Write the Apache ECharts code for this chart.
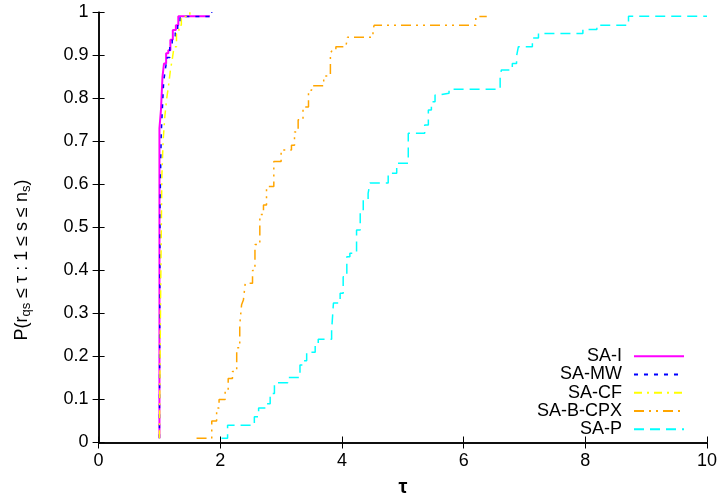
<!DOCTYPE html>
<html>
<head>
<meta charset="utf-8">
<script src="https://cdn.jsdelivr.net/npm/echarts@6/dist/echarts.min.js"></script>
<style>html,body{margin:0;padding:0;background:#fff}#c{width:720px;height:499px}</style>
</head>
<body>
<div id="c"></div>
<script>
// ---- data ----
const seriesNames = ['SA-I', 'SA-MW', 'SA-CF', 'SA-B-CPX', 'SA-P'];
const xTicks = [0, 2, 4, 6, 8, 10];
const yTicks = [0, 0.1, 0.2, 0.3, 0.4, 0.5, 0.6, 0.7, 0.8, 0.9, 1];

const saI_tau = [1.00, 1.00, 1.025, 1.05, 1.075, 1.11, 1.146, 1.18, 1.22, 1.27, 1.31, 1.83];
const saI_p   = [0.01, 0.73, 0.773, 0.85, 0.881, 0.905, 0.912, 0.936, 0.959, 0.97, 0.991, 0.991];

const saMW_tau = [1.00, 1.01, 1.03, 1.05, 1.07, 1.10, 1.13, 1.17, 1.21, 1.26, 1.30, 1.34, 1.86];
const saMW_p   = [0.01, 0.55, 0.72, 0.78, 0.84, 0.87, 0.895, 0.92, 0.945, 0.96, 0.975, 0.99, 1.0];

const saCF_tau = [1.00, 1.02, 1.04, 1.06, 1.09, 1.12, 1.15, 1.18, 1.21, 1.24, 1.28, 1.32, 1.36, 1.50];
const saCF_p   = [0.01, 0.35, 0.62, 0.70, 0.76, 0.80, 0.83, 0.865, 0.89, 0.92, 0.95, 0.97, 0.99, 1.0];

const saBCPX_tau = [1.61, 1.86, 1.94, 1.98, 2.08, 2.13, 2.20, 2.27, 2.32, 2.35, 2.38, 2.41, 2.53, 2.57, 2.65,
                    2.71, 2.76, 2.88, 3.00, 3.17, 3.22, 3.28, 3.36, 3.45, 3.50, 3.70, 3.81, 3.84, 3.90, 4.07,
                    4.09, 4.51, 4.53, 6.20, 6.38];
const saBCPX_p   = [0.01, 0.05, 0.08, 0.10, 0.118, 0.149, 0.165, 0.22, 0.273, 0.32, 0.331, 0.37, 0.40, 0.46, 0.53,
                    0.552, 0.595, 0.653, 0.68, 0.691, 0.722, 0.75, 0.78, 0.819, 0.829, 0.852, 0.905, 0.912, 0.92, 0.925,
                    0.942, 0.96, 0.97, 0.99, 0.99];

const saP_tau = [2.02, 2.12, 2.56, 2.63, 2.75, 2.82, 2.89, 3.11, 3.31, 3.37, 3.42, 3.56, 3.61, 3.83, 3.86,
                 3.97, 4.02, 4.08, 4.13, 4.24, 4.30, 4.35, 4.43, 4.46, 4.76, 4.90, 5.09, 5.36, 5.42, 5.47,
                 5.53, 5.61, 5.76, 6.60, 6.62, 6.80, 6.87, 6.90, 7.13, 7.23, 7.96, 8.19, 8.71, 10.0];
const saP_p   = [0.01, 0.04, 0.06, 0.08, 0.09, 0.114, 0.139, 0.151, 0.18, 0.19, 0.21, 0.23, 0.24, 0.26, 0.324,
                 0.347, 0.385, 0.432, 0.44, 0.494, 0.54, 0.564, 0.579, 0.603, 0.626, 0.649, 0.719, 0.738, 0.773, 0.792,
                 0.808, 0.812, 0.821, 0.849, 0.866, 0.881, 0.898, 0.92, 0.94, 0.951, 0.96, 0.97, 0.991, 0.991];

// ---- build ----
const zip = (a, b) => a.map((v, i) => [v, b[i]]);
const seriesData = [
  zip(saI_tau, saI_p), zip(saMW_tau, saMW_p), zip(saCF_tau, saCF_p),
  zip(saBCPX_tau, saBCPX_p), zip(saP_tau, saP_p)
];
const styles = [
  { color: '#ff00ff', width: 2,   type: 'solid' },
  { color: '#0000ff', width: 1.5, type: [4, 6] },
  { color: '#ffff00', width: 1.5, type: [8, 5, 2, 5] },
  { color: '#ffa500', width: 1.5, type: [10, 5, 2, 5, 2, 5] },
  { color: '#00ffff', width: 1.5, type: [10, 6] }
];
const FONT = 'Liberation Sans, Arial, sans-serif';

const chart = echarts.init(document.getElementById('c'), null, { renderer: 'canvas' });
const axisLine = { show: true, lineStyle: { color: '#000', width: 1.5 } };
const tick = { show: true, inside: true, length: 6, lineStyle: { color: '#000', width: 1 } };

chart.setOption({
  animation: false,
  backgroundColor: '#fff',
  grid: { left: 98.6, right: 13, top: 12.3, bottom: 56.5, containLabel: false },
  xAxis: [
    { type: 'value', min: xTicks[0], max: xTicks[xTicks.length - 1], interval: 2, position: 'bottom',
      axisLine, axisTick: tick, splitLine: { show: false },
      axisLabel: { color: '#000', fontFamily: FONT, fontSize: 18, margin: 10 } },
    { type: 'value', min: xTicks[0], max: xTicks[xTicks.length - 1], interval: 2, position: 'top',
      axisLine, axisTick: tick, splitLine: { show: false }, axisLabel: { show: false } }
  ],
  yAxis: [
    { type: 'value', min: yTicks[0], max: yTicks[yTicks.length - 1], interval: 0.1, position: 'left',
      axisLine, axisTick: tick, splitLine: { show: false },
      axisLabel: { color: '#000', fontFamily: FONT, fontSize: 18, margin: 10 } },
    { type: 'value', min: yTicks[0], max: yTicks[yTicks.length - 1], interval: 0.1, position: 'right',
      axisLine, axisTick: tick, splitLine: { show: false }, axisLabel: { show: false } }
  ],
  legend: {
    orient: 'vertical', align: 'right', right: 30, top: 342,
    itemWidth: 50, itemHeight: 12, itemGap: 0,
    itemStyle: { opacity: 0 },
    textStyle: { color: '#000', fontFamily: FONT, fontSize: 18, lineHeight: 18.3,
                 width: 95, align: 'right', padding: [0, 7, 0, 0] },
    data: seriesNames
  },
  graphic: [
    { type: 'text', x: 22, y: 260, rotation: Math.PI / 2,
      style: { text: 'P(r{s|qs} ≤ τ : 1 ≤ s ≤ n{s|s})', font: '18px ' + FONT, fill: '#000',
               align: 'center', verticalAlign: 'middle',
               rich: { s: { fontSize: 13, fontFamily: FONT, verticalAlign: 'bottom', padding: [8, 0, 0, 0] } } } },
    { type: 'text', x: 403, y: 487,
      style: { text: 'τ', font: 'bold 20px ' + FONT, fill: '#000', align: 'center', verticalAlign: 'middle' } }
  ],
  series: seriesNames.map((n, i) => ({
    name: n, type: 'line', step: 'end', data: seriesData[i],
    xAxisIndex: 0, yAxisIndex: 0,
    symbol: 'none', showSymbol: false, clip: true,
    lineStyle: styles[i], itemStyle: { color: styles[i].color }
  }))
});
</script>
</body>
</html>
